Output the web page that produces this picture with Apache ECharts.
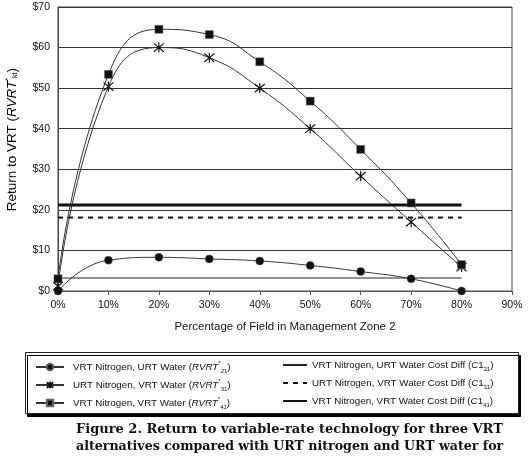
<!DOCTYPE html>
<html><head><meta charset="utf-8">
<script src="https://cdn.jsdelivr.net/npm/echarts@6/dist/echarts.min.js"></script>
<style>html,body{margin:0;padding:0;background:#fff}#c{width:530px;height:458px}</style>
</head><body><div id="c"></div>
<script>
const pct = [0, 10, 20, 30, 40, 50, 60, 70, 80];
const rvrt21 = [0, 7.6, 8.3, 7.9, 7.4, 6.3, 4.8, 3.0, 0];
const rvrt31 = [1.2, 50.4, 60.0, 57.5, 50.0, 40.0, 28.3, 17.0, 5.9];
const rvrt41 = [3.0, 53.4, 64.5, 63.2, 56.5, 46.8, 34.9, 21.7, 6.5];
const c121 = 3.2, c131 = 18.1, c141 = 21.2;
const costRange = [0, 80];
const yTicks = [0, 10, 20, 30, 40, 50, 60, 70];

const pairs = (xs, ys) => xs.map((x, i) => [x, ys[i]]);
const flat = (v) => costRange.map(x => [x, v]);

const names = {
  a: 'VRT Nitrogen, URT Water (RVRT21)',
  b: 'URT Nitrogen, VRT Water (RVRT31)',
  c: 'VRT Nitrogen, VRT Water (RVRT41)',
  d: 'VRT Nitrogen, URT Water Cost Diff (C121)',
  e: 'URT Nitrogen, VRT Water Cost Diff (C131)',
  f: 'VRT Nitrogen, VRT Water Cost Diff (C141)'
};
const FS = 9.8;
const rich = {
  n: {fontFamily: 'Liberation Sans', fontSize: FS, color: '#111', lineHeight: 14},
  i: {fontFamily: 'Liberation Sans', fontStyle: 'italic', fontSize: FS, color: '#111', lineHeight: 14},
  sup: {fontFamily: 'Liberation Sans', fontSize: 6, color: '#111', verticalAlign: 'top', lineHeight: 14},
  sub: {fontFamily: 'Liberation Sans', fontSize: 6, color: '#111', verticalAlign: 'bottom', lineHeight: 14}
};
const fmt = (nm) => {
  const m = nm.match(/^(.*)\((RVRT|C1)(\d\d)\)$/);
  if (!m) return nm;
  const base = m[2] === 'C1' ? '{i|C}{n|1}' : '{i|RVRT}{sup|*}';
  return '{n|' + m[1] + '(}' + base + '{sub|' + m[3] + '}{n|)}';
};
const starPath = 'path://M0,0L10,10M10,0L0,10M5,-1L5,11';
const lineCol = '#333';
const hidden = {opacity: 0};

const chart = echarts.init(document.getElementById('c'), null, {renderer: 'canvas'});
chart.setOption({
  animation: false,
  backgroundColor: '#fff',
  grid: {left: 58, right: 18, top: 7, bottom: 167, show: true, borderColor: '#444', borderWidth: 1},
  xAxis: {
    type: 'value', min: 0, max: 90, interval: 10,
    axisLine: {show: true, lineStyle: {color: '#555'}},
    axisTick: {show: true, length: 4, lineStyle: {color: '#555'}},
    splitLine: {show: false},
    axisLabel: {formatter: '{value}%', color: '#111', fontFamily: 'Liberation Sans', fontSize: 10.5, margin: 9},
    name: 'Percentage of Field in Management Zone 2', nameLocation: 'middle', nameGap: 30,
    nameTextStyle: {color: '#111', fontFamily: 'Liberation Sans', fontSize: 11.5}
  },
  yAxis: {
    type: 'value', min: 0, max: 70, interval: 10,
    axisLine: {show: true, lineStyle: {color: '#444'}},
    axisTick: {show: false},
    splitLine: {show: true, lineStyle: {color: '#333', width: 1}},
    axisLabel: {formatter: (v) => '$' + v, color: '#111', fontFamily: 'Liberation Sans', fontSize: 10.5, margin: 8}
  },
  legend: [
    {left: 30, top: 355, orient: 'vertical', itemGap: 4, itemWidth: 28, itemHeight: 8,
     data: [names.a, names.b, names.c], formatter: fmt, textStyle: {rich: rich, padding: [0, 0, 0, 4]}},
    {left: 277, top: 355, orient: 'vertical', itemGap: 6, itemWidth: 24, itemHeight: 8,
     data: [{name: names.d, itemStyle: hidden}, {name: names.e, itemStyle: hidden}, {name: names.f, itemStyle: hidden}],
     formatter: fmt, textStyle: {rich: rich}}
  ],
  graphic: [
    {type: 'rect', z: -1, left: 25, top: 352, shape: {width: 493, height: 61},
     style: {fill: '#fff', stroke: '#222', lineWidth: 1, shadowColor: '#000', shadowOffsetX: 2, shadowOffsetY: 3, shadowBlur: 0}},
    {type: 'text', left: 5, top: 68, rotation: Math.PI / 2,
     style: {text: '{n|Return to VRT (}{i|RVRT}{sup|*}{sub|kt}{n|)}', rich: {
       n: {fontFamily: 'Liberation Sans', fontSize: 13.5, color: '#111'},
       i: {fontFamily: 'Liberation Sans', fontStyle: 'italic', fontSize: 13.5, color: '#111'},
       sup: {fontFamily: 'Liberation Sans', fontSize: 7, color: '#111', verticalAlign: 'top'},
       sub: {fontFamily: 'Liberation Sans', fontSize: 7, color: '#111', verticalAlign: 'bottom'}
     }}},
    {type: 'text', left: 76, top: 423,
     style: {text: 'Figure 2. Return to variable-rate technology for three VRT',
       font: 'bold 13px "DejaVu Serif"', fill: '#111'}},
    {type: 'text', left: 76, top: 440,
     style: {text: 'alternatives compared with URT nitrogen and URT water for',
       font: 'bold 12.6px "DejaVu Serif"', fill: '#111'}}
  ],
  series: [
    {name: names.a, type: 'line', smooth: true, data: pairs(pct, rvrt21),
     symbol: 'circle', symbolSize: 8, lineStyle: {color: lineCol, width: 1},
     itemStyle: {color: '#111', borderColor: '#555', borderWidth: 0.5}},
    {name: names.b, type: 'line', smooth: true, data: pairs(pct, rvrt31),
     symbol: starPath, symbolSize: 10, lineStyle: {color: lineCol, width: 1},
     itemStyle: {color: 'rgba(0,0,0,0)', borderColor: '#111', borderWidth: 1.2}},
    {name: names.c, type: 'line', smooth: true, data: pairs(pct, rvrt41),
     symbol: 'rect', symbolSize: 8, lineStyle: {color: lineCol, width: 1},
     itemStyle: {color: '#111', borderColor: '#666', borderWidth: 0.5}},
    {name: names.d, type: 'line', data: flat(c121), symbol: 'none',
     itemStyle: {color: '#222'}, lineStyle: {color: '#222', width: 1.2}},
    {name: names.e, type: 'line', data: flat(c131), symbol: 'none',
     itemStyle: {color: '#111'}, lineStyle: {color: '#111', width: 2, type: [5, 5]}},
    {name: names.f, type: 'line', data: flat(c141), symbol: 'none',
     itemStyle: {color: '#111'}, lineStyle: {color: '#111', width: 3}}
  ]
});
</script></body></html>
